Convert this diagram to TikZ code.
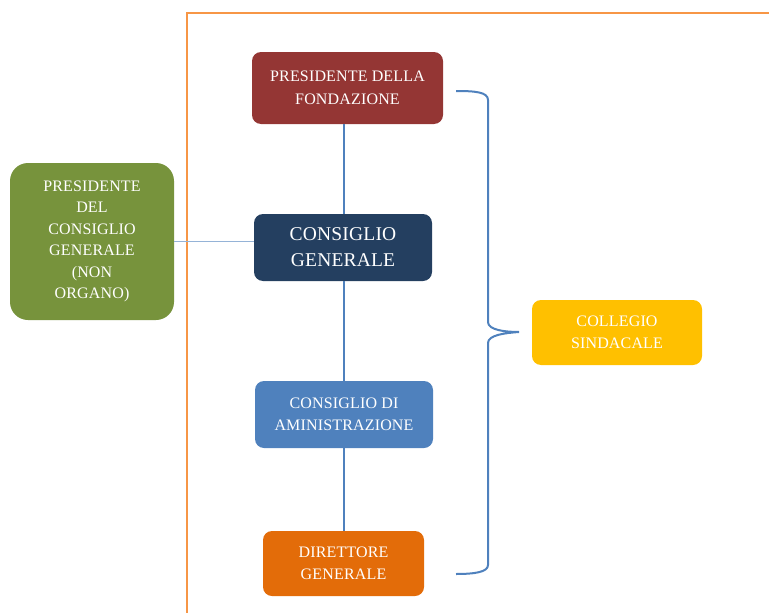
\documentclass[tikz,border=0pt]{standalone}
\usepackage{fontspec}
\setmainfont{Liberation Serif}[LetterSpace=1]
\definecolor{cred}{HTML}{943634}
\definecolor{cnavy}{HTML}{243F60}
\definecolor{cblue}{HTML}{4F81BD}
\definecolor{corange}{HTML}{E36C09}
\definecolor{cgreen}{HTML}{77933C}
\definecolor{cyellow}{HTML}{FFC000}
\definecolor{cframe}{HTML}{F79646}
\definecolor{cline}{HTML}{4F81BD}
\definecolor{clight}{HTML}{95B3D7}
\begin{document}
\begin{tikzpicture}[x=1pt,y=-1pt,
  box/.style={rounded corners=9pt, inner sep=0pt, text=white, align=center, font=\fontsize{16}{22.5}\selectfont},
  conn/.style={draw=cline, line width=2.6pt}]
\useasboundingbox (0,0) rectangle (769,613);
\draw[cframe, line width=2.8pt] (187,613) -- (187,13) -- (769,13);
\node[box, fill=cred, minimum width=191pt, minimum height=72pt] (pf) at (347.5,88) {PRESIDENTE DELLA\\FONDAZIONE};
\node[box, fill=cnavy, minimum width=178pt, minimum height=67pt, font=\fontsize{19.5}{26}\selectfont] (cg) at (343,247.5) {CONSIGLIO\\GENERALE};
\node[box, fill=cblue, minimum width=178pt, minimum height=67pt] (ca) at (344,414.5) {CONSIGLIO DI\\AMINISTRAZIONE};
\node[box, fill=corange, minimum width=161pt, minimum height=65pt] (dg) at (343.5,563.5) {DIRETTORE\\GENERALE};
\node[box, fill=cgreen, minimum width=164pt, minimum height=157pt, rounded corners=18pt, font=\fontsize{16}{21.5}\selectfont] (pc) at (92,241.5) {PRESIDENTE\\DEL\\CONSIGLIO\\GENERALE\\(NON\\ORGANO)};
\node[box, fill=cyellow, minimum width=170pt, minimum height=65pt] (cs) at (617,332.5) {COLLEGIO\\SINDACALE};
\draw[conn] (ca.north |- pf.south) -- (ca.north |- cg.north);
\draw[conn] (ca.north |- cg.south) -- (ca.north);
\draw[conn] (ca.south) -- (ca.south |- dg.north);
\draw[draw=clight, line width=1.8pt] (pc.east) -- (pc.east -| cg.west);
\coordinate (bt) at (456,91);
\coordinate (bb) at (456,574);
\coordinate (btip) at (519,332);
\draw[cline, line width=2pt] (bt) .. controls (475,91) and (488,92) .. (488,100)
  -- (488,322) .. controls (488,330) and (505,332) .. (btip)
  .. controls (505,333) and (488,335) .. (488,343)
  -- (488,565) .. controls (488,572) and (475,574) .. (bb);
\end{tikzpicture}
\end{document}
